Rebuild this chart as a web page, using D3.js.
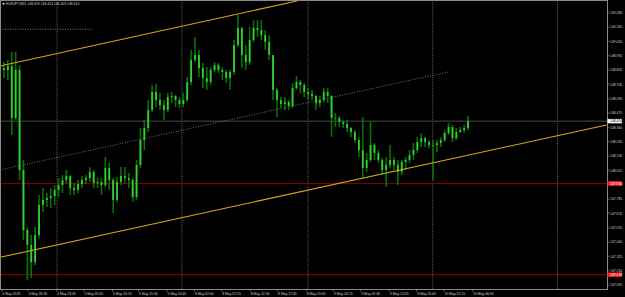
<!DOCTYPE html>
<html>
<head>
<meta charset="utf-8">
<script src="https://cdn.jsdelivr.net/npm/d3@7"></script>
<style>
  html, body { margin: 0; padding: 0; background: #000; }
  svg { display: block; font-family: "Liberation Sans", Arial, sans-serif; }
</style>
</head>
<body>
<div id="chart"></div>
<script>
/* EURJPY M15 chart, MetaTrader look: candles, channel, levels, axes. */

const SYMBOL = "EURJPY,M15";
const QUOTE = [148.419, 148.424, 148.403, 148.410];   // O H L C of the current bar

// candles, each one covers 3 M15 bars
const BARS_PER_CANDLE = 3;
const FIRST_OPEN = 148.836;
const CLOSE = [
  148.820, 148.852, 148.435, 148.820, 148.018, 147.536, 147.416, 147.279, 147.496, 147.737,
  147.777, 147.793, 147.809, 147.857, 147.897, 147.937, 147.969, 147.873, 147.857, 147.905,
  147.937, 147.953, 148.002, 147.913, 147.921, 147.897, 148.034, 147.937, 147.777, 147.921,
  147.969, 147.953, 147.937, 147.801, 148.058, 148.258, 148.355, 148.499, 148.644, 148.579,
  148.539, 148.499, 148.603, 148.612, 148.579, 148.547, 148.579, 148.724, 148.900, 148.941,
  148.836, 148.756, 148.724, 148.820, 148.860, 148.820, 148.804, 148.756, 148.804, 149.021,
  149.157, 148.941, 148.884, 149.061, 149.157, 149.141, 149.101, 149.045, 148.941, 148.660,
  148.579, 148.547, 148.563, 148.531, 148.676, 148.724, 148.700, 148.644, 148.628, 148.612,
  148.555, 148.579, 148.644, 148.612, 148.435, 148.435, 148.403, 148.387, 148.355, 148.323,
  148.258, 148.178, 148.034, 148.098, 148.218, 148.154, 148.098, 148.018, 148.058, 148.098,
  148.058, 148.002, 148.082, 148.098, 148.138, 148.178, 148.242, 148.274, 148.242, 148.218,
  148.218, 148.234, 148.258, 148.315, 148.363, 148.274, 148.323, 148.339, 148.355, 148.411
];
const HIGH = [
  148.884, 148.900, 148.965, 148.965, 148.860, 148.098, 147.560, 147.496, 147.560, 147.817,
  147.873, 147.833, 147.873, 147.897, 147.953, 147.977, 148.018, 147.977, 147.913, 147.937,
  147.969, 147.977, 148.042, 148.018, 147.961, 147.953, 148.122, 148.074, 147.953, 147.961,
  148.042, 148.042, 147.994, 147.953, 148.098, 148.355, 148.419, 148.579, 148.700, 148.708,
  148.636, 148.579, 148.636, 148.644, 148.620, 148.603, 148.636, 148.764, 148.981, 149.085,
  148.981, 148.876, 148.844, 148.844, 148.884, 148.876, 148.844, 148.820, 148.820, 149.061,
  149.262, 149.165, 149.021, 149.165, 149.221, 149.221, 149.221, 149.141, 149.101, 148.941,
  148.676, 148.603, 148.603, 148.579, 148.716, 148.772, 148.740, 148.716, 148.676, 148.660,
  148.620, 148.612, 148.676, 148.676, 148.620, 148.475, 148.451, 148.419, 148.419, 148.363,
  148.339, 148.282, 148.443, 148.154, 148.403, 148.234, 148.178, 148.114, 148.122, 148.218,
  148.122, 148.098, 148.098, 148.122, 148.178, 148.234, 148.282, 148.315, 148.282, 148.258,
  148.258, 148.258, 148.282, 148.339, 148.395, 148.379, 148.355, 148.363, 148.379, 148.451
];
const LOW = [
  148.756, 148.740, 148.298, 148.419, 147.937, 147.456, 147.135, 147.151, 147.255, 147.472,
  147.680, 147.721, 147.713, 147.737, 147.801, 147.833, 147.913, 147.817, 147.817, 147.833,
  147.873, 147.905, 147.921, 147.873, 147.873, 147.817, 147.881, 147.857, 147.672, 147.761,
  147.897, 147.913, 147.873, 147.761, 147.777, 148.034, 148.178, 148.323, 148.483, 148.523,
  148.499, 148.419, 148.483, 148.555, 148.523, 148.515, 148.523, 148.563, 148.700, 148.884,
  148.764, 148.676, 148.660, 148.700, 148.804, 148.796, 148.740, 148.716, 148.660, 148.780,
  149.005, 148.836, 148.820, 148.860, 149.045, 149.085, 149.061, 148.981, 148.900, 148.579,
  148.443, 148.515, 148.499, 148.499, 148.515, 148.660, 148.636, 148.603, 148.579, 148.579,
  148.499, 148.523, 148.563, 148.555, 148.282, 148.363, 148.363, 148.355, 148.323, 148.282,
  148.234, 148.122, 147.953, 148.002, 148.082, 148.098, 148.074, 147.977, 147.881, 148.034,
  148.018, 147.897, 147.977, 148.018, 148.074, 148.098, 148.154, 148.202, 148.202, 148.194,
  147.937, 148.162, 148.202, 148.242, 148.298, 148.242, 148.258, 148.315, 148.315, 148.339
];

// price scale labels (right side)
const PRICE_TICKS = [149.280, 149.165, 149.050, 148.935, 148.820, 148.705, 148.590, 148.475,
  148.360, 148.245, 148.130, 148.015, 147.900, 147.785, 147.670, 147.555, 147.440, 147.325,
  147.210, 147.095];

// time scale labels and their bar index (M15 bars from the first one)
const TIME_LABELS = ["4 May 2023", "4 May 18:30", "4 May 23:45", "5 May 05:00", "5 May 10:15",
  "5 May 15:30", "5 May 20:45", "8 May 02:00", "8 May 07:15", "8 May 12:30", "8 May 17:45",
  "8 May 23:00", "9 May 04:15", "9 May 09:30", "9 May 14:45", "9 May 20:00", "10 May 01:15",
  "10 May 06:30"];
const TIME_TICKS = [0, 20, 42, 63, 85, 105, 127, 148, 169, 191, 212, 234, 255, 276, 298, 319, 340, 362];

// day separators (bar index)
const DAY_BREAKS = [42, 138, 235, 331, 427];

const BID = 148.410;
const LEVELS = [147.910, 147.178];                 // red horizontal lines

// drawn objects: [barIndex, price] pairs
const CHANNEL_TOP = [[-1.5, 148.852], [227, 149.374]];
const CHANNEL_BOTTOM = [[-1.5, 147.317], [465, 148.379]];
const CHANNEL_MID = [[-1.5, 148.018], [343, 148.804]];
const DOTTED_LEVEL = [[-1.5, 149.147], [70, 149.147]];

const W = 625, H = 297;
const PLOT = { left: 0, right: 607, top: 0, bottom: 289 };

const svg = d3.select("#chart").append("svg")
    .attr("width", W).attr("height", H)
    .style("background", "#000");

const x = d3.scaleLinear().domain([0, 360]).range([2, 470]);
const y = d3.scaleLinear().domain([147.095, 149.280]).range([285, 12.7]);

const plot = svg.append("g");
plot.append("clipPath").attr("id", "clip")
  .append("rect").attr("x", 0).attr("y", 0).attr("width", PLOT.right).attr("height", PLOT.bottom);
const inner = plot.append("g").attr("clip-path", "url(#clip)");

// day separators
inner.selectAll("line.sep").data(DAY_BREAKS).join("line").attr("class", "sep")
    .attr("x1", d => x(d) + 0.5).attr("x2", d => x(d) + 0.5)
    .attr("y1", PLOT.top).attr("y2", PLOT.bottom)
    .attr("stroke", "#8a8a8a").attr("stroke-width", 0.8).attr("stroke-dasharray", "1,1.2");

// red levels + bid line
inner.selectAll("line.level").data(LEVELS).join("line").attr("class", "level")
    .attr("x1", PLOT.left).attr("x2", PLOT.right)
    .attr("y1", d => y(d)).attr("y2", d => y(d))
    .attr("stroke", "#8b0000").attr("stroke-width", 1);
inner.append("line")
    .attr("x1", PLOT.left).attr("x2", PLOT.right).attr("y1", y(BID)).attr("y2", y(BID))
    .attr("stroke", "#4a4a4a").attr("stroke-width", 1);

// trend objects
const seg = (pts, color, width, dash) => inner.append("line")
    .attr("x1", x(pts[0][0])).attr("y1", y(pts[0][1]))
    .attr("x2", x(pts[1][0])).attr("y2", y(pts[1][1]))
    .attr("stroke", color).attr("stroke-width", width)
    .attr("stroke-dasharray", dash || null);
seg(CHANNEL_MID, "#8c8c8c", 0.8, "1,1.5");
seg(DOTTED_LEVEL, "#9a9a9a", 0.8, "1,1.5");

// candles
const candles = CLOSE.map((c, i) => ({
  i, open: i ? CLOSE[i - 1] : FIRST_OPEN, close: c, high: HIGH[i], low: LOW[i]
}));
const cx = d => x(d.i * BARS_PER_CANDLE + BARS_PER_CANDLE / 2);
inner.selectAll("line.wick").data(candles).join("line").attr("class", "wick")
    .attr("x1", cx).attr("x2", cx)
    .attr("y1", d => y(d.high)).attr("y2", d => y(d.low))
    .attr("stroke", "#0a700a").attr("stroke-width", 1.6);
inner.selectAll("line.body").data(candles).join("line").attr("class", "body")
    .attr("x1", cx).attr("x2", cx)
    .attr("y1", d => y(d.open)).attr("y2", d => y(d.close) + (d.open === d.close ? 0.8 : 0))
    .attr("stroke", "#2fd22f").attr("stroke-width", 1.8);

seg(CHANNEL_TOP, "#d9aa10", 1.1);
seg(CHANNEL_BOTTOM, "#d9aa10", 1.1);

// frame
plot.append("rect")
    .attr("x", 0.5).attr("y", 0.5).attr("width", PLOT.right).attr("height", PLOT.bottom)
    .attr("fill", "none").attr("stroke", "#8a8a8a").attr("stroke-width", 1);

// price axis
const FS = 3.4;
const pAxis = svg.append("g");
pAxis.selectAll("line").data(PRICE_TICKS).join("line")
    .attr("x1", PLOT.right + 0.5).attr("x2", PLOT.right + 2.5)
    .attr("y1", d => y(d)).attr("y2", d => y(d))
    .attr("stroke", "#9a9a9a").attr("stroke-width", 0.6);
pAxis.selectAll("text").data(PRICE_TICKS).join("text")
    .attr("x", 610).attr("y", d => y(d) + 1.2)
    .attr("font-size", FS).attr("fill", "#d0d0d0")
    .text(d => d.toFixed(3));

// price tags: red levels and bid
const tag = (v, bg, fg) => {
  pAxis.append("rect").attr("x", PLOT.right + 0.5).attr("y", y(v) - 2.2)
      .attr("width", 14.5).attr("height", 4.4).attr("fill", bg);
  pAxis.append("text").attr("x", 610).attr("y", y(v) + 1.2)
      .attr("font-size", FS).attr("fill", fg).text(v.toFixed(3));
};
LEVELS.forEach(v => tag(v, "#ff1a1a", "#fff"));
tag(BID, "#f4f4f4", "#000");

// time axis
const tAxis = svg.append("g");
tAxis.selectAll("line").data(TIME_TICKS).join("line")
    .attr("x1", d => x(d)).attr("x2", d => x(d))
    .attr("y1", PLOT.bottom + 0.5).attr("y2", PLOT.bottom + 2.5)
    .attr("stroke", "#9a9a9a").attr("stroke-width", 0.6);
tAxis.selectAll("text").data(TIME_LABELS).join("text")
    .attr("x", (d, i) => x(TIME_TICKS[i]) + 0.5).attr("y", 295)
    .attr("font-size", FS).attr("fill", "#d0d0d0")
    .text(d => d);

// header
const head = svg.append("g");
head.append("path").attr("d", "M2,3 L5,3 L3.5,5 Z").attr("fill", "#e0e0e0");
head.append("text").attr("x", 6).attr("y", 5.3)
    .attr("font-size", FS).attr("fill", "#d0d0d0")
    .text(`${SYMBOL}  ${QUOTE.map(v => v.toFixed(3)).join("  ")}`);
</script>
</body>
</html>
